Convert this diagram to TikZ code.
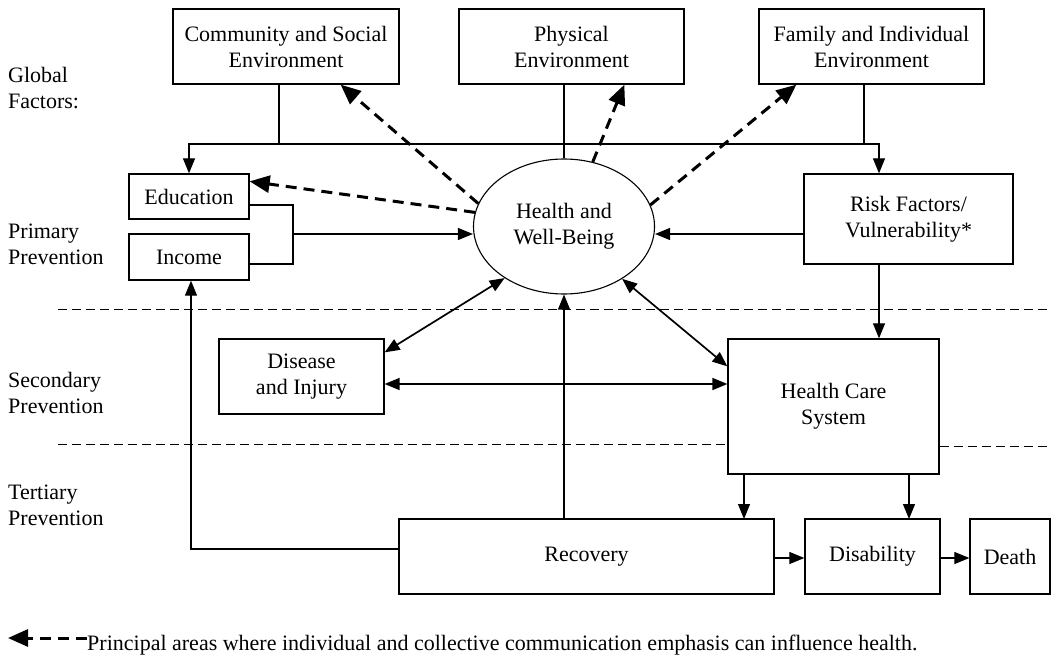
\documentclass[tikz,border=0pt]{standalone}
\usepackage{fontspec}
\setmainfont{Liberation Serif}
\usetikzlibrary{arrows.meta,shapes.geometric}
\begin{document}
\begin{tikzpicture}[x=1pt,y=-1pt,
  font=\fontsize{22}{26}\selectfont,
  box/.style={draw, line width=1.3pt, align=center, inner sep=0pt},
  lab/.style={anchor=west, align=left, inner sep=0pt},
  link/.style={line width=1.2pt},
  arr/.style={line width=1.2pt, -{Triangle[length=15pt,width=12pt]}},
  twoway/.style={line width=1.7pt, {Triangle[length=15pt,width=12pt]}-{Triangle[length=15pt,width=12pt]}},
  commarrow/.style={line width=3pt, dash pattern=on 11pt off 7pt, -{Triangle[length=20pt,width=17pt]}},
  divider/.style={line width=1pt, dash pattern=on 9pt off 5pt}
]
\useasboundingbox (0,0) rectangle (1051,655);

% level labels
\node[lab] (gf) at (8,88)    {Global\\Factors:};
\node[lab] (pp) at (8,244.5) {Primary\\Prevention};
\node[lab] (sp) at (8,392.5) {Secondary\\Prevention};
\node[lab] (tp) at (8,505.5) {Tertiary\\Prevention};

% global factors
\node[box, minimum width=226pt, minimum height=75pt] (comm) at (286,46.5)   {Community and Social\\Environment};
\node[box, minimum width=225pt, minimum height=75pt] (phys) at (571.5,46.5) {Physical\\Environment};
\node[box, minimum width=225pt, minimum height=75pt] (fam)  at (871.5,46.5) {Family and Individual\\Environment};

% primary level
\node[box, minimum width=120pt, minimum height=45pt] (edu)  at (189,196.5) {Education};
\node[box, minimum width=120pt, minimum height=46pt] (inc)  at (189,257)   {Income};
\node[draw, ellipse, line width=1.1pt, inner sep=0pt, align=center,
      minimum width=181pt, minimum height=135pt] (hw) at (564,226.5) {Health and\\Well-Being};
\node[box, minimum width=209pt, minimum height=90pt] (risk) at (908.5,219) {Risk Factors/\\Vulnerability*};

% secondary level
\node[box, minimum width=165pt, minimum height=75pt]  (dis) at (301.5,376.5) {Disease\\and Injury};
\node[box, minimum width=211pt, minimum height=135pt] (hc)  at (833.5,406.5) {Health Care\\System};

% tertiary level
\node[box, minimum width=375pt, minimum height=75pt] (rec)   at (586.5,556.5)  {Recovery};
\node[box, minimum width=135pt, minimum height=75pt] (disab) at (872.5,556.5)  {Disability};
\node[box, minimum width=80pt,  minimum height=75pt] (death) at (1010,556.5)   {Death};

% level dividers
\draw[divider] (58,309) -- (1051,309);
\draw[divider] (58,444) -- (hc.west |- 0,444);
\draw[divider] (hc.east |- 0,446) -- (1051,446);

% bus from the global factors
\coordinate (jc) at (279,144);
\coordinate (jf) at (864,144);
\coordinate (jr) at (879,144);
\draw[link] (jc |- comm.south) -- (jc);
\draw[link] (jf |- fam.south) -- (jf);
\draw[link] (hw.north) -- (hw.north |- phys.south);
\draw[link] (jc) -- (jf);
\draw[arr] (jc) -| (edu.north);
\draw[arr] (jf) -- (jr) -- (jr |- risk.north);

% education and income into health
\coordinate (bk) at (293,234);
\draw[link] (edu.east |- 0,205) -| (bk) |- (inc.east |- 0,264);
\draw[arr] (bk) -- (bk -| hw.west);
\draw[arr] (risk.west |- bk) -- (bk -| hw.east);

% risk factors to the health care system
\draw[arr] (jr |- risk.south) -- (jr |- hc.north);

% two-way links
\draw[twoway] (hw.221) -- ([yshift=-14pt]dis.north east);
\draw[twoway] (hw.318.5) -- ([yshift=-28pt]hc.north west);
\coordinate (dh) at (556,384);
\draw[twoway] (dis.east |- dh) -- (hc.west |- dh);

% recovery paths
\coordinate (rl) at (191,549);
\draw[arr] (hw.south |- rec.north) -- (hw.south);
\draw[arr] (rec.west |- rl) -- (rl) -- (rl |- inc.south);

% health care outcomes
\draw[arr] (744,474) -- (744,519);
\draw[arr] (909,474) -- (909,519);
\draw[arr] (rec.east |- 0,558) -- (disab.west |- 0,558);
\draw[arr] (disab.east |- 0,558) -- (death.west |- 0,558);

% communication emphasis
\draw[commarrow] (hw.165) -- ([xshift=-59pt]comm.south east);
\draw[commarrow] (hw.171) -- ([yshift=-8pt]edu.north east);
\draw[commarrow] (hw.66)  -- ([xshift=166pt]phys.south west);
\draw[commarrow] (hw.14)  -- ([xshift=38pt]fam.south west);

% legend
\node[anchor=base west, inner sep=0pt] (leg) at (87,650)
  {Principal areas where individual and collective communication emphasis can influence health.};
\coordinate (legtip) at (8,638);
\draw[commarrow] (leg.west |- legtip) -- (legtip);
\end{tikzpicture}
\end{document}
